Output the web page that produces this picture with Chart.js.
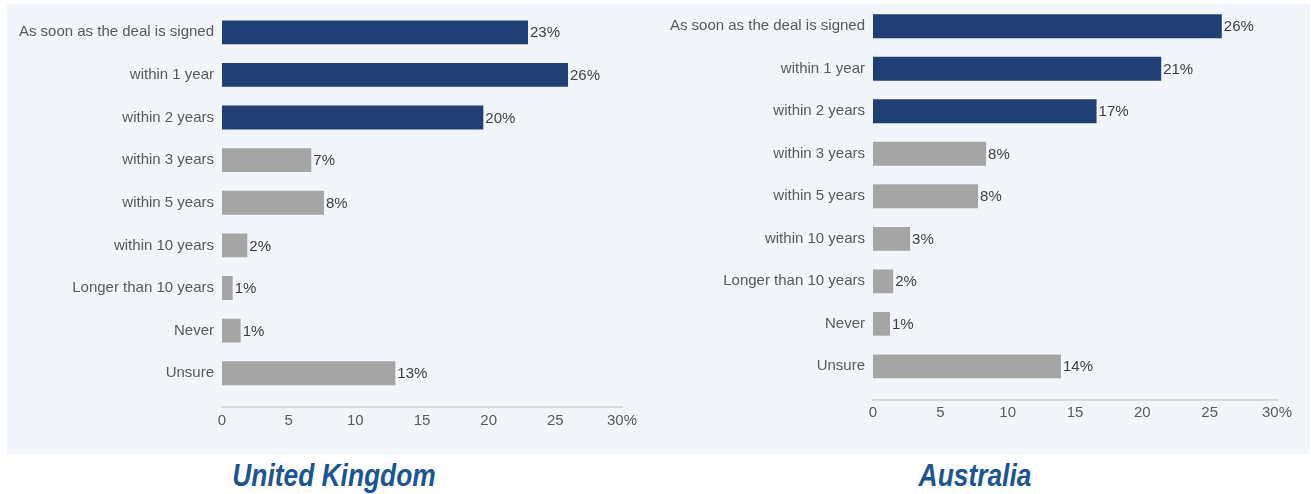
<!DOCTYPE html>
<html>
<head>
<meta charset="utf-8">
<script src="https://cdn.jsdelivr.net/npm/chart.js@4"></script>
<style>
  body { margin: 0; background: #fff; }
  #page { position: relative; width: 1311px; height: 494px; overflow: hidden; }
  #panel { position: absolute; left: 7px; top: 4px; width: 1303px; height: 450px; background: #f2f6fa; }
  .wrap { position: absolute; width: 655px; }
  .title {
    position: absolute; top: 458px; width: 400px; text-align: center;
    font-family: "Liberation Sans", Arial, sans-serif;
    font-weight: bold; font-style: italic; font-size: 31px; color: #1b5694;
    transform: scaleX(0.85); transform-origin: center;
  }
</style>
</head>
<body>
<div id="page">
  <div id="panel"></div>
  <div class="wrap" style="left:0px; top:-6.4px; height:446.4px;"><canvas id="ukChart"></canvas></div>
  <div class="wrap" style="left:651px; top:-12.3px; height:445.3px;"><canvas id="auChart"></canvas></div>
  <div class="title" style="left:134px;">United Kingdom</div>
  <div class="title" style="left:775px;">Australia</div>
</div>
<script>
// categories, top to bottom
const categories = [
    'As soon as the deal is signed',
    'within 1 year',
    'within 2 years',
    'within 3 years',
    'within 5 years',
    'within 10 years',
    'Longer than 10 years',
    'Never',
    'Unsure'
];
// percent of respondents (bar lengths)
const ukValues = [22.95, 25.95, 19.6, 6.7, 7.65, 1.9, 0.8, 1.4, 13.0];
const auValues = [25.9, 21.4, 16.6, 8.4, 7.8, 2.75, 1.5, 1.26, 13.96];
// first three answers are highlighted
const highlighted = [true, true, true, false, false, false, false, false, false];
const xTicks = [0, 5, 10, 15, 20, 25, 30];

const navy = '#203f74';
const grey = '#a5a5a5';
const textColor = '#595959';
const fontFamily = '"Liberation Sans", Arial, sans-serif';

// percentage label at the end of each bar
const valueLabels = {
    id: 'valueLabels',
    afterDatasetsDraw(chart) {
        const ctx = chart.ctx;
        const meta = chart.getDatasetMeta(0);
        ctx.save();
        ctx.font = '15px ' + fontFamily;
        ctx.fillStyle = '#404040';
        ctx.textAlign = 'left';
        ctx.textBaseline = 'middle';
        meta.data.forEach((bar, i) => {
            const v = chart.data.datasets[0].data[i].x;
            ctx.fillText(Math.round(v) + '%', bar.x + 2, bar.y + 1);
        });
        ctx.restore();
    }
};

function makeChart(canvasId, values, rightPad) {
    const ctx = document.getElementById(canvasId).getContext('2d');
    return new Chart(ctx, {
        type: 'bar',
        data: {
            datasets: [{
                data: values.map((v, i) => ({x: v, y: i})),
                backgroundColor: highlighted.map(h => h ? navy : grey),
                barPercentage: 0.56,
                categoryPercentage: 1
            }]
        },
        options: {
            indexAxis: 'y',
            responsive: true,
            maintainAspectRatio: false,
            animation: false,
            layout: {
                padding: {left: 0, right: rightPad, top: 10, bottom: 0}
            },
            plugins: {
                legend: {display: false},
                tooltip: {enabled: false}
            },
            scales: {
                y: {
                    type: 'linear',
                    reverse: true,
                    offset: false,
                    bounds: 'data',
                    min: -0.5,
                    max: 8.8,
                    afterFit: s => { s.width = 222; },
                    afterBuildTicks: s => { s.ticks = categories.map((c, i) => ({value: i})); },
                    grid: {display: false, drawTicks: false},
                    border: {display: false},
                    ticks: {
                        color: textColor,
                        padding: 8,
                        font: {family: fontFamily, size: 15},
                        callback: v => categories[v]
                    }
                },
                x: {
                    min: 0,
                    max: 30,
                    afterFit: s => { s.height = 33; },
                    afterBuildTicks: s => { s.ticks = xTicks.map(t => ({value: t})); },
                    grid: {display: false, drawTicks: false},
                    border: {display: true, color: '#dadada', width: 2},
                    ticks: {
                        color: textColor,
                        padding: 4,
                        maxRotation: 0,
                        font: {family: fontFamily, size: 15},
                        callback: v => v === 30 ? '30%' : String(v)
                    }
                }
            }
        },
        plugins: [valueLabels]
    });
}

var ukChart = makeChart('ukChart', ukValues, 33);
var auChart = makeChart('auChart', auValues, 29);
</script>
</body>
</html>
